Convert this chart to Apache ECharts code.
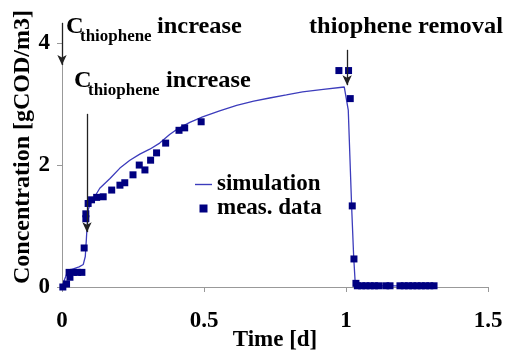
<!DOCTYPE html>
<html>
<head>
<meta charset="utf-8">
<script src="https://cdn.jsdelivr.net/npm/echarts@6/dist/echarts.min.js"></script>
<style>
  html, body { margin: 0; padding: 0; background: #fff; }
  #chart { width: 506px; height: 354px; }
</style>
</head>
<body>
<div id="chart"></div>
<script>
// simulation curve [time d, concentration gCOD/m3]
const simTime = [0, 0.007, 0.018, 0.035, 0.06, 0.075, 0.082, 0.086, 0.089, 0.093, 0.1, 0.115, 0.133, 0.169,
  0.204, 0.239, 0.274, 0.309, 0.344, 0.379, 0.409, 0.45, 0.495, 0.555, 0.615, 0.675, 0.731, 0.79, 0.847,
  0.92, 0.994, 1.0, 1.008, 1.014, 1.02, 1.027, 1.032, 1.038, 1.1, 1.3];
const simConc = [0, 0.1, 0.23, 0.29, 0.33, 0.37, 0.5, 0.8, 1.05, 1.28, 1.37, 1.48, 1.62, 1.78,
  1.95, 2.08, 2.18, 2.26, 2.36, 2.5, 2.6, 2.7, 2.79, 2.89, 2.98, 3.05, 3.1, 3.15, 3.2,
  3.24, 3.28, 3.28, 2.9, 2.1, 1.3, 0.5, 0.1, 0.04, 0.02, 0.02];

// measured data
const measTime = [0.003, 0.016, 0.028, 0.025, 0.04, 0.055, 0.07, 0.078, 0.084, 0.084, 0.092, 0.104, 0.122,
  0.145, 0.175, 0.204, 0.221, 0.25, 0.272, 0.292, 0.312, 0.333, 0.365, 0.412, 0.432, 0.49,
  0.975, 1.009, 1.015, 1.022, 1.028, 1.035, 1.04, 1.055, 1.07, 1.085, 1.1, 1.115, 1.14, 1.155,
  1.19, 1.205, 1.22, 1.235, 1.25, 1.265, 1.28, 1.295, 1.31];
const measConc = [0, 0.05, 0.16, 0.24, 0.24, 0.24, 0.24, 0.64, 1.12, 1.2, 1.37, 1.43, 1.47,
  1.48, 1.59, 1.67, 1.71, 1.84, 2.0, 1.92, 2.08, 2.2, 2.36, 2.57, 2.61, 2.71,
  3.55, 3.55, 3.09, 1.33, 0.46, 0.06, 0.02, 0.02, 0.02, 0.02, 0.02, 0.02, 0.02, 0.02,
  0.02, 0.02, 0.02, 0.02, 0.02, 0.02, 0.02, 0.02, 0.02];

const xTicks = [0, 0.5, 1, 1.5];
const yTicks = [0, 2, 4];

// arrows: [x, from y, to y]
const arrows = [[0, 4.33, 3.64], [0.088, 2.84, 0.9], [1.004, 3.89, 3.31]];

const FONT = 'Liberation Serif';
const big = 'bold 23px "Liberation Serif"';
const small = 'bold 16px "Liberation Serif"';

const chart = echarts.init(document.getElementById('chart'));

const simData = simTime.map((t, i) => [t, simConc[i]]);
const measData = measTime.map((t, i) => [t, measConc[i]]);

function note(text, left, top, font) {
  return { type: 'text', left: left, top: top, scaleX: 1.06, style: { text: text, font: font, fill: '#000' } };
}

chart.setOption({
  animation: false,
  grid: { left: 62, right: 18, top: 23, bottom: 67, outerBoundsMode: 'none', containLabel: false },
  xAxis: {
    type: 'value',
    min: 0,
    max: 1.5,
    interval: 0.5,
    name: 'Time [d]',
    nameLocation: 'middle',
    nameGap: 42,
    nameMoveOverlap: false,
    nameTextStyle: { fontFamily: FONT, fontWeight: 'bold', fontSize: 23, color: '#000' },
    axisLine: { lineStyle: { color: '#999', width: 1 } },
    axisTick: { length: 5, lineStyle: { color: '#999' } },
    axisLabel: {
      margin: 23,
      fontFamily: FONT, fontWeight: 'bold', fontSize: 23, color: '#000',
      formatter: v => String(v)
    },
    splitLine: { show: false }
  },
  yAxis: {
    type: 'value',
    min: 0,
    max: 4.33,
    name: 'Concentration [gCOD/m3]',
    nameLocation: 'middle',
    nameGap: 27,
    nameMoveOverlap: false,
    nameTextStyle: { fontFamily: FONT, fontWeight: 'bold', fontSize: 24, color: '#000', padding: [0, 0, 0, 16] },
    axisLine: { show: true, lineStyle: { color: '#999', width: 1 } },
    axisTick: { show: true, length: 5, customValues: yTicks, lineStyle: { color: '#999' } },
    axisLabel: {
      margin: 12,
      customValues: yTicks,
      fontFamily: FONT, fontWeight: 'bold', fontSize: 23, color: '#000'
    },
    splitLine: { show: false }
  },
  legend: {
    orient: 'vertical',
    left: 190,
    top: 168,
    itemWidth: 17,
    itemHeight: 8,
    itemGap: 1,
    textStyle: { fontFamily: FONT, fontWeight: 'bold', fontSize: 23, color: '#000' },
    data: [
      { name: 'simulation', icon: 'path://M0,0h16v1.3h-16z' },
      { name: 'meas. data', icon: 'path://M0,0h10v10h-10z' }
    ]
  },
  graphic: [
    note('C', 66, 16, big),
    note('thiophene', 80, 29, small),
    note('increase', 157, 16, big),
    note('C', 74, 70, big),
    note('thiophene', 88, 83, small),
    note('increase', 166, 70, big),
    note('thiophene removal', 309, 16, big)
  ],
  series: [
    {
      name: 'simulation',
      type: 'line',
      data: simData,
      symbol: 'none',
      lineStyle: { color: '#3c3cbc', width: 1.3 },
      itemStyle: { color: '#3c3cbc' },
      z: 2,
      markLine: {
        silent: true,
        symbol: ['none', 'arrow'],
        symbolSize: [7, 10],
        label: { show: false },
        lineStyle: { color: '#222', width: 1.3, type: 'solid' },
        data: arrows.map(a => [{ coord: [a[0], a[1]] }, { coord: [a[0], a[2]] }])
      }
    },
    {
      name: 'meas. data',
      type: 'scatter',
      data: measData,
      symbol: 'rect',
      symbolSize: 7,
      itemStyle: { color: '#000080', opacity: 1 },
      z: 3
    }
  ]
});
</script>
</body>
</html>
